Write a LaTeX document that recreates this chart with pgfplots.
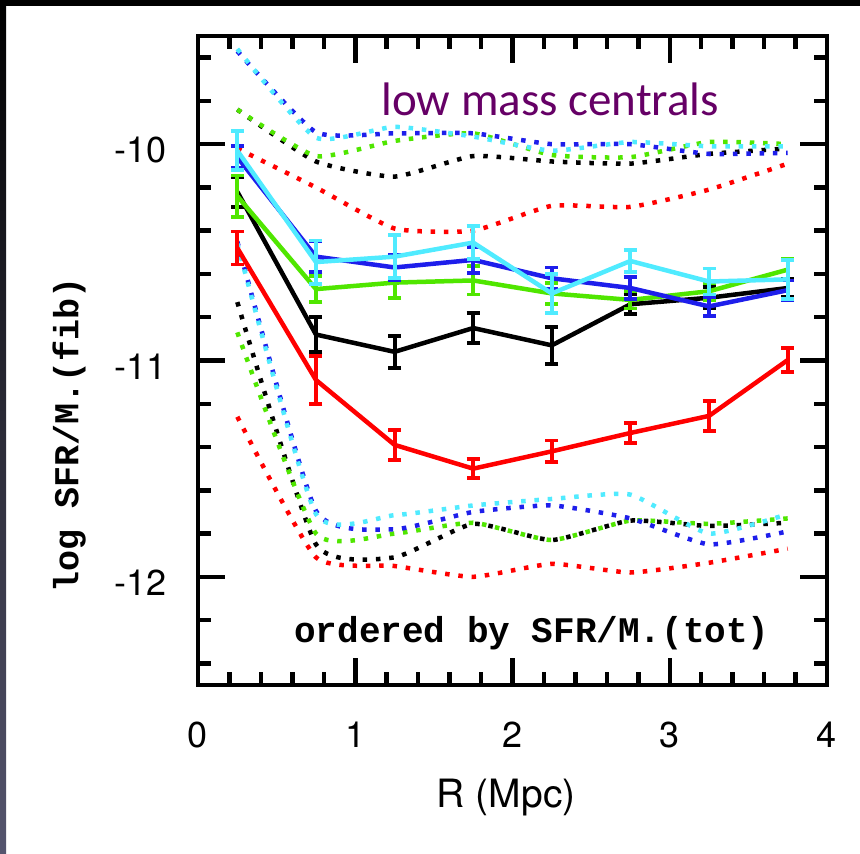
\documentclass[border=0pt]{standalone}
\usepackage{pgfplots}
\pgfplotsset{compat=1.18}
\usepackage{fontspec}
\setmainfont{TeX Gyre Heros}
\newfontfamily\monob{Liberation Mono}
\newfontfamily\carlito{Carlito}
\definecolor{cgreen}{RGB}{80,230,0}
\definecolor{ccyan}{RGB}{80,235,255}
\definecolor{cblue}{RGB}{30,30,235}
\definecolor{cred}{RGB}{255,0,0}
\definecolor{cpurple}{RGB}{102,0,102}
\definecolor{stripbot}{RGB}{85,85,110}
\begin{document}
\begin{tikzpicture}[x=1pt,y=1pt]
\useasboundingbox (0,0) rectangle (860,854);
\fill[white] (0,0) rectangle (860,854);
\fill[black] (0,848) rectangle (860,854);
\shade[top color=black, bottom color=stripbot] (0,0) rectangle (6,848);
\begin{axis}[
  at={(198pt,169pt)}, anchor=south west,
  width=629pt, height=649pt, scale only axis,
  xmin=0, xmax=4, ymin=-12.5, ymax=-9.5,
  axis line style={line width=4.5pt},
  tick style={line width=4.5pt, black},
  major tick length=27pt, minor tick length=13pt,
  tick align=inside,
  xtick={0,1,2,3,4}, xticklabels={0,1,2,3,4},
  minor xtick={0.2,0.4,0.6,0.8,1.2,1.4,1.6,1.8,2.2,2.4,2.6,2.8,3.2,3.4,3.6,3.8},
  ytick={-12,-11,-10}, yticklabels={-12,-11,-10},
  minor ytick={-12.4,-12.2,-11.8,-11.6,-11.4,-11.2,-10.8,-10.6,-10.4,-10.2,-9.8,-9.6},
  xticklabel style={font=\fontsize{36}{40}\selectfont, inner sep=0pt, anchor=north, yshift=-37pt},
  yticklabel style={font=\fontsize{36}{40}\selectfont, inner sep=0pt, anchor=east, xshift=-31pt, yshift=-6pt},
  xlabel={R (Mpc)},
  xlabel style={font=\fontsize{39}{44}\selectfont, at={(axis description cs:0.49,-0.188)}, anchor=base, inner sep=0pt},
  ylabel={\monob\bfseries log SFR/M.(fib)},
  ylabel style={font=\fontsize{35}{40}\selectfont, at={(axis description cs:-0.205,0.385)}, anchor=center, inner sep=0pt},
  clip=false,
  every axis plot/.append style={mark=none},
  dotted curve/.style={line width=4.5pt, dash pattern=on 4.5pt off 8.8pt, smooth, tension=0.3},
  solid curve/.style={line width=4.5pt, error bars/y dir=both, error bars/y explicit,
     error bars/error bar style={line width=4pt},
     error bars/error mark options={rotate=90, mark size=6.5pt, line width=3.8pt}},
]
% upper envelopes (dotted)
\addplot[dotted curve, cred] coordinates {(0.25,-10.02) (0.75,-10.20) (1.25,-10.39) (1.75,-10.40) (2.25,-10.285) (2.75,-10.29) (3.25,-10.21) (3.75,-10.09)};
\addplot[dotted curve, black] coordinates {(0.25,-9.84) (0.75,-10.08) (1.25,-10.15) (1.75,-10.055) (2.25,-10.08) (2.75,-10.09) (3.25,-10.045) (3.75,-10.02)};
\addplot[dotted curve, cgreen] coordinates {(0.25,-9.84) (0.75,-10.055) (1.25,-9.985) (1.75,-9.95) (2.25,-10.05) (2.75,-10.06) (3.25,-9.99) (3.75,-10.0)};
\addplot[dotted curve, cblue] coordinates {(0.25,-9.57) (0.75,-9.945) (1.25,-9.95) (1.75,-9.95) (2.25,-10.0) (2.75,-10.0) (3.25,-10.045) (3.75,-10.04)};
\addplot[dotted curve, ccyan] coordinates {(0.25,-9.56) (0.75,-9.97) (1.25,-9.92) (1.75,-9.965) (2.25,-10.03) (2.75,-9.99) (3.25,-10.01) (3.75,-10.01)};
% lower envelopes (dotted)
\addplot[dotted curve, cred] coordinates {(0.25,-11.26) (0.75,-11.91) (1.25,-11.95) (1.75,-12.0) (2.25,-11.94) (2.75,-11.98) (3.25,-11.935) (3.75,-11.87)};
\addplot[dotted curve, black] coordinates {(0.25,-10.73) (0.75,-11.85) (1.25,-11.91) (1.75,-11.755) (2.25,-11.83) (2.75,-11.74) (3.25,-11.765) (3.75,-11.75)};
\addplot[dotted curve, cgreen] coordinates {(0.25,-10.87) (0.75,-11.80) (1.25,-11.80) (1.75,-11.75) (2.25,-11.83) (2.75,-11.74) (3.25,-11.755) (3.75,-11.73)};
\addplot[dotted curve, cblue] coordinates {(0.25,-10.45) (0.75,-11.695) (1.25,-11.78) (1.75,-11.70) (2.25,-11.67) (2.75,-11.73) (3.25,-11.85) (3.75,-11.79)};
\addplot[dotted curve, ccyan] coordinates {(0.25,-10.46) (0.75,-11.71) (1.25,-11.715) (1.75,-11.67) (2.25,-11.64) (2.75,-11.62) (3.25,-11.80) (3.75,-11.71)};
% medians with error bars
\addplot[solid curve, cred] coordinates {(0.25,-10.48) +- (0,0.076) (0.75,-11.09) +- (0,0.11) (1.25,-11.39) +- (0,0.07) (1.75,-11.50) +- (0,0.045) (2.25,-11.42) +- (0,0.05) (2.75,-11.335) +- (0,0.045) (3.25,-11.256) +- (0,0.07) (3.75,-10.998) +- (0,0.055)};
\addplot[solid curve, black] coordinates {(0.25,-10.22) +- (0,0.07) (0.75,-10.88) +- (0,0.08) (1.25,-10.96) +- (0,0.075) (1.75,-10.85) +- (0,0.07) (2.25,-10.93) +- (0,0.085) (2.75,-10.74) +- (0,0.045) (3.25,-10.71) +- (0,0.05) (3.75,-10.665) +- (0,0.04)};
\addplot[solid curve, cgreen] coordinates {(0.25,-10.24) +- (0,0.095) (0.75,-10.67) +- (0,0.06) (1.25,-10.64) +- (0,0.07) (1.75,-10.63) +- (0,0.065) (2.25,-10.69) +- (0,0.05) (2.75,-10.72) +- (0,0.04) (3.25,-10.68) +- (0,0.04) (3.75,-10.58) +- (0,0.05)};
\addplot[solid curve, cblue] coordinates {(0.25,-10.06) +- (0,0.05) (0.75,-10.52) +- (0,0.07) (1.25,-10.57) +- (0,0.06) (1.75,-10.535) +- (0,0.06) (2.25,-10.62) +- (0,0.05) (2.75,-10.665) +- (0,0.05) (3.25,-10.75) +- (0,0.045) (3.75,-10.675) +- (0,0.045)};
\addplot[solid curve, ccyan] coordinates {(0.25,-10.03) +- (0,0.09) (0.75,-10.545) +- (0,0.1) (1.25,-10.52) +- (0,0.10) (1.75,-10.455) +- (0,0.075) (2.25,-10.69) +- (0,0.09) (2.75,-10.54) +- (0,0.05) (3.25,-10.635) +- (0,0.06) (3.75,-10.625) +- (0,0.09)};
% annotations
\node[anchor=base, inner sep=0pt, font=\fontsize{36}{40}\selectfont\monob\bfseries] at (axis description cs:0.531,0.066) {ordered by SFR/M.(tot)};
\node[anchor=base, inner sep=0pt, text=cpurple, font=\fontsize{47}{52}\selectfont\carlito] at (axis description cs:0.56,0.878) {low mass centrals};
\end{axis}
\end{tikzpicture}
\end{document}
